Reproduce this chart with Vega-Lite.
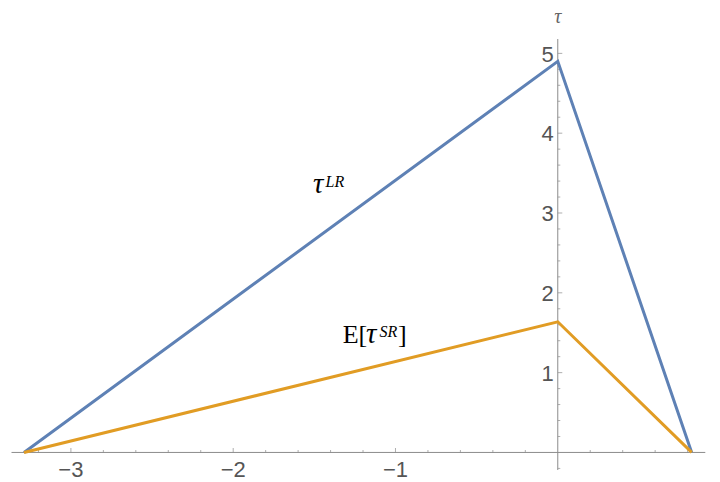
{
  "$schema": "https://vega.github.io/schema/vega-lite/v6.json",
  "width": 693.8,
  "height": 431,
  "autosize": {"type": "none"},
  "padding": {"left": 11.5, "top": 39, "right": 14.7, "bottom": 12},
  "background": "white",
  "config": {"view": {"stroke": null}},
  "datasets": {
    "lines": [
      {"series": "LR", "x": -3.289, "y": 0},
      {"series": "LR", "x": 0, "y": 4.9},
      {"series": "LR", "x": 0.825, "y": 0},
      {"series": "SR", "x": -3.289, "y": 0},
      {"series": "SR", "x": 0, "y": 1.637},
      {"series": "SR", "x": 0.825, "y": 0}
    ],
    "xticks": [
      {"v": -3, "kind": "major", "label": "−3"},
      {"v": -2, "kind": "major", "label": "−2"},
      {"v": -1, "kind": "major", "label": "−1"},
      {"v": -3.2, "kind": "minor"},
      {"v": -2.8, "kind": "minor"},
      {"v": -2.6, "kind": "minor"},
      {"v": -2.4, "kind": "minor"},
      {"v": -2.2, "kind": "minor"},
      {"v": -1.8, "kind": "minor"},
      {"v": -1.6, "kind": "minor"},
      {"v": -1.4, "kind": "minor"},
      {"v": -1.2, "kind": "minor"},
      {"v": -0.8, "kind": "minor"},
      {"v": -0.6, "kind": "minor"},
      {"v": -0.4, "kind": "minor"},
      {"v": -0.2, "kind": "minor"},
      {"v": 0.2, "kind": "minor"},
      {"v": 0.4, "kind": "minor"},
      {"v": 0.6, "kind": "minor"},
      {"v": 0.8, "kind": "minor"}
    ],
    "yticks": [
      {"v": 1, "kind": "major", "label": "1"},
      {"v": 2, "kind": "major", "label": "2"},
      {"v": 3, "kind": "major", "label": "3"},
      {"v": 4, "kind": "major", "label": "4"},
      {"v": 5, "kind": "major", "label": "5"},
      {"v": -0.2, "kind": "minor"},
      {"v": 0.2, "kind": "minor"},
      {"v": 0.4, "kind": "minor"},
      {"v": 0.6, "kind": "minor"},
      {"v": 0.8, "kind": "minor"},
      {"v": 1.2, "kind": "minor"},
      {"v": 1.4, "kind": "minor"},
      {"v": 1.6, "kind": "minor"},
      {"v": 1.8, "kind": "minor"},
      {"v": 2.2, "kind": "minor"},
      {"v": 2.4, "kind": "minor"},
      {"v": 2.6, "kind": "minor"},
      {"v": 2.8, "kind": "minor"},
      {"v": 3.2, "kind": "minor"},
      {"v": 3.4, "kind": "minor"},
      {"v": 3.6, "kind": "minor"},
      {"v": 3.8, "kind": "minor"},
      {"v": 4.2, "kind": "minor"},
      {"v": 4.4, "kind": "minor"},
      {"v": 4.6, "kind": "minor"},
      {"v": 4.8, "kind": "minor"}
    ],
    "upright": [
      {"x": -1.3253, "y": 1.366, "text": "E["},
      {"x": -0.984, "y": 1.366, "text": "]"}
    ],
    "italicMain": [
      {"x": -1.508, "y": 3.249, "text": "τ"},
      {"x": -1.1818, "y": 1.366, "text": "τ"}
    ],
    "superscripts": [
      {"x": -1.431, "y": 3.324, "text": "LR"},
      {"x": -1.0985, "y": 1.449, "text": "SR"}
    ],
    "axisTitle": [
      {"x": 0, "y": 5.38, "text": "τ"}
    ]
  },
  "layer": [
    {
      "data": {"values": [{}]},
      "mark": {"type": "rule", "color": "#8c8c8c", "strokeWidth": 1},
      "encoding": {
        "y": {"datum": 0, "type": "quantitative", "scale": {"domain": [-0.22, 5.18], "nice": false, "zero": false}, "axis": null}
      }
    },
    {
      "data": {"values": [{}]},
      "mark": {"type": "rule", "color": "#8c8c8c", "strokeWidth": 1},
      "encoding": {
        "x": {"datum": 0, "type": "quantitative", "scale": {"domain": [-3.366, 0.909], "nice": false, "zero": false}, "axis": null}
      }
    },
    {
      "data": {"name": "xticks"},
      "transform": [{"filter": "datum.kind === 'major'"}],
      "mark": {"type": "tick", "orient": "vertical", "size": 4.5, "thickness": 1, "color": "#8c8c8c", "yOffset": -2.25},
      "encoding": {
        "x": {"field": "v", "type": "quantitative", "scale": {"domain": [-3.366, 0.909], "nice": false, "zero": false}, "axis": null},
        "y": {"datum": 0, "type": "quantitative", "scale": {"domain": [-0.22, 5.18], "nice": false, "zero": false}, "axis": null}
      }
    },
    {
      "data": {"name": "xticks"},
      "transform": [{"filter": "datum.kind === 'minor'"}],
      "mark": {"type": "tick", "orient": "vertical", "size": 2.5, "thickness": 1, "color": "#8c8c8c", "yOffset": -1.25},
      "encoding": {
        "x": {"field": "v", "type": "quantitative", "scale": {"domain": [-3.366, 0.909], "nice": false, "zero": false}, "axis": null},
        "y": {"datum": 0, "type": "quantitative", "scale": {"domain": [-0.22, 5.18], "nice": false, "zero": false}, "axis": null}
      }
    },
    {
      "data": {"name": "yticks"},
      "transform": [{"filter": "datum.kind === 'major'"}],
      "mark": {"type": "tick", "orient": "horizontal", "size": 4.5, "thickness": 1, "color": "#8c8c8c", "xOffset": 2.25},
      "encoding": {
        "y": {"field": "v", "type": "quantitative", "scale": {"domain": [-0.22, 5.18], "nice": false, "zero": false}, "axis": null},
        "x": {"datum": 0, "type": "quantitative", "scale": {"domain": [-3.366, 0.909], "nice": false, "zero": false}, "axis": null}
      }
    },
    {
      "data": {"name": "yticks"},
      "transform": [{"filter": "datum.kind === 'minor'"}],
      "mark": {"type": "tick", "orient": "horizontal", "size": 2.5, "thickness": 1, "color": "#8c8c8c", "xOffset": 1.25},
      "encoding": {
        "y": {"field": "v", "type": "quantitative", "scale": {"domain": [-0.22, 5.18], "nice": false, "zero": false}, "axis": null},
        "x": {"datum": 0, "type": "quantitative", "scale": {"domain": [-3.366, 0.909], "nice": false, "zero": false}, "axis": null}
      }
    },
    {
      "data": {"name": "xticks"},
      "transform": [{"filter": "datum.kind === 'major'"}],
      "mark": {"type": "text", "font": "Liberation Sans", "fontSize": 22, "color": "#555555", "align": "center", "baseline": "alphabetic", "dy": 24.4},
      "encoding": {
        "x": {"field": "v", "type": "quantitative", "scale": {"domain": [-3.366, 0.909], "nice": false, "zero": false}, "axis": null},
        "y": {"datum": 0, "type": "quantitative", "scale": {"domain": [-0.22, 5.18], "nice": false, "zero": false}, "axis": null},
        "text": {"field": "label"}
      }
    },
    {
      "data": {"name": "yticks"},
      "transform": [{"filter": "datum.kind === 'major'"}],
      "mark": {"type": "text", "font": "Liberation Sans", "fontSize": 22, "color": "#555555", "align": "right", "baseline": "alphabetic", "dx": -4, "dy": 8.3},
      "encoding": {
        "y": {"field": "v", "type": "quantitative", "scale": {"domain": [-0.22, 5.18], "nice": false, "zero": false}, "axis": null},
        "x": {"datum": 0, "type": "quantitative", "scale": {"domain": [-3.366, 0.909], "nice": false, "zero": false}, "axis": null},
        "text": {"field": "label"}
      }
    },
    {
      "data": {"name": "lines"},
      "mark": {"type": "line", "strokeWidth": 3, "strokeJoin": "miter"},
      "encoding": {
        "x": {"field": "x", "type": "quantitative", "scale": {"domain": [-3.366, 0.909], "nice": false, "zero": false}, "axis": null},
        "y": {"field": "y", "type": "quantitative", "scale": {"domain": [-0.22, 5.18], "nice": false, "zero": false}, "axis": null},
        "color": {"field": "series", "type": "nominal", "scale": {"domain": ["LR", "SR"], "range": ["#5E81B5", "#E19C24"]}, "legend": null}
      }
    },
    {
      "data": {"name": "upright"},
      "mark": {"type": "text", "font": "Liberation Serif", "fontSize": 26, "color": "#000000", "align": "left", "baseline": "alphabetic"},
      "encoding": {
        "x": {"field": "x", "type": "quantitative", "scale": {"domain": [-3.366, 0.909], "nice": false, "zero": false}, "axis": null},
        "y": {"field": "y", "type": "quantitative", "scale": {"domain": [-0.22, 5.18], "nice": false, "zero": false}, "axis": null},
        "text": {"field": "text"}
      }
    },
    {
      "data": {"name": "italicMain"},
      "mark": {"type": "text", "font": "Liberation Serif", "fontStyle": "italic", "fontSize": 29, "color": "#000000", "align": "left", "baseline": "alphabetic"},
      "encoding": {
        "x": {"field": "x", "type": "quantitative", "scale": {"domain": [-3.366, 0.909], "nice": false, "zero": false}, "axis": null},
        "y": {"field": "y", "type": "quantitative", "scale": {"domain": [-0.22, 5.18], "nice": false, "zero": false}, "axis": null},
        "text": {"field": "text"}
      }
    },
    {
      "data": {"name": "superscripts"},
      "mark": {"type": "text", "font": "Liberation Serif", "fontStyle": "italic", "fontSize": 16, "color": "#000000", "align": "left", "baseline": "alphabetic"},
      "encoding": {
        "x": {"field": "x", "type": "quantitative", "scale": {"domain": [-3.366, 0.909], "nice": false, "zero": false}, "axis": null},
        "y": {"field": "y", "type": "quantitative", "scale": {"domain": [-0.22, 5.18], "nice": false, "zero": false}, "axis": null},
        "text": {"field": "text"}
      }
    },
    {
      "data": {"name": "axisTitle"},
      "mark": {"type": "text", "font": "Liberation Serif", "fontStyle": "italic", "fontSize": 20, "color": "#666666", "align": "center", "baseline": "alphabetic"},
      "encoding": {
        "x": {"field": "x", "type": "quantitative", "scale": {"domain": [-3.366, 0.909], "nice": false, "zero": false}, "axis": null},
        "y": {"field": "y", "type": "quantitative", "scale": {"domain": [-0.22, 5.18], "nice": false, "zero": false}, "axis": null},
        "text": {"field": "text"}
      }
    }
  ]
}
